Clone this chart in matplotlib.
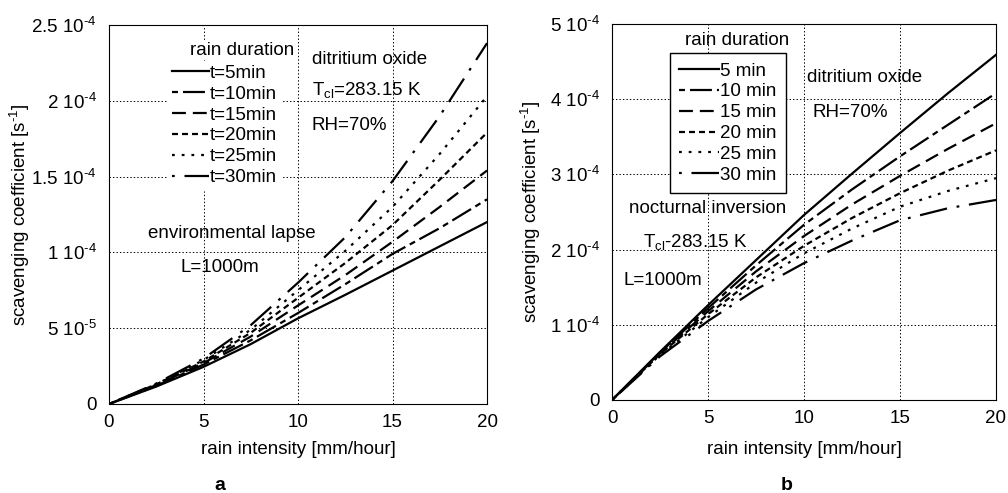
import numpy as np
import matplotlib
matplotlib.use('Agg')
import matplotlib.pyplot as plt

plt.rcParams['font.family'] = ['Liberation Sans', 'DejaVu Sans']
plt.rcParams['mathtext.fontset'] = 'custom'
plt.rcParams['mathtext.rm'] = 'Liberation Sans'
plt.rcParams['mathtext.it'] = 'Liberation Sans:italic'
plt.rcParams['lines.scale_dashes'] = False

# rain intensity [mm/hour]
x = [0, 2.5, 5, 7.5, 10, 12.5, 15, 17.5, 20]

# panel a: environmental lapse, values in 1e-5 s^-1
a_t5 = [0, 1.15, 2.45, 3.95, 5.65, 7.2, 8.8, 10.4, 12.0]
a_t10 = [0, 1.2, 2.6, 4.2, 6.0, 7.9, 9.9, 11.6, 13.5]
a_t15 = [0, 1.25, 2.7, 4.45, 6.5, 8.5, 10.7, 13.0, 15.4]
a_t20 = [0, 1.3, 2.8, 4.7, 7.0, 9.3, 11.8, 14.8, 17.9]
a_t25 = [0, 1.3, 2.9, 4.9, 7.5, 10.1, 13.0, 16.5, 20.3]
a_t30 = [0, 1.35, 3.0, 5.2, 8.0, 11.0, 14.7, 19.0, 23.8]

# panel b: nocturnal inversion, values in 1e-4 s^-1
b_t5 = [0, 0.64, 1.26, 1.86, 2.46, 3.01, 3.55, 4.08, 4.59]
b_t10 = [0, 0.63, 1.22, 1.79, 2.33, 2.80, 3.24, 3.66, 4.08]
b_t15 = [0, 0.62, 1.18, 1.71, 2.18, 2.60, 2.98, 3.34, 3.68]
b_t20 = [0, 0.61, 1.14, 1.63, 2.05, 2.42, 2.75, 3.05, 3.32]
b_t25 = [0, 0.60, 1.10, 1.56, 1.95, 2.28, 2.57, 2.78, 2.95]
b_t30 = [0, 0.58, 1.05, 1.47, 1.82, 2.12, 2.39, 2.55, 2.66]

a_labels = ['t=5min', 't=10min', 't=15min', 't=20min', 't=25min', 't=30min']
b_labels = ['5 min', '10 min', '15 min', '20 min', '25 min', '30 min']

a_yticks = [0, 5e-5, 1e-4, 1.5e-4, 2e-4, 2.5e-4]
a_yticklabels = ['0', '5 10$^{\\text{-5}}$', '1 10$^{\\text{-4}}$', '1.5 10$^{\\text{-4}}$',
                 '2 10$^{\\text{-4}}$', '2.5 10$^{\\text{-4}}$']
b_yticks = [0, 1e-4, 2e-4, 3e-4, 4e-4, 5e-4]
b_yticklabels = ['0', '1 10$^{\\text{-4}}$', '2 10$^{\\text{-4}}$', '3 10$^{\\text{-4}}$',
                 '4 10$^{\\text{-4}}$', '5 10$^{\\text{-4}}$']

# line styles (on/off in points)
styles = [
    None,
    (0, (4.3, 3.6, 15.8, 3.6)),
    (0, (10, 5)),
    (0, (4.3, 2.9)),
    (0, (2.0, 5.0)),
    (0, (2.0, 7.0, 20, 7.0)),
]

FS = 13.5
fig = plt.figure(figsize=(10.08, 4.93), dpi=100)
axa = fig.add_axes([109 / 1008, 1 - 404 / 493, 378 / 1008, 379 / 493])
axb = fig.add_axes([612 / 1008, 1 - 400 / 493, 384 / 1008, 376 / 493])


def draw(ax, series, scale, labels):
    for ys, ls, lab in zip(series, styles, labels):
        y = np.array(ys) * scale
        if ls is None:
            ax.plot(x, y, color='black', lw=1.6, label=lab)
        else:
            ax.plot(x, y, color='black', lw=1.6, linestyle=ls, label=lab)
    ax.set_xlim(0, 20)
    ax.set_xticks([0, 5, 10, 15, 20])
    ax.grid(True, color='black', linestyle=(0, (1, 1.5)), linewidth=0.7)
    ax.tick_params(length=0, labelsize=FS)
    ax.tick_params(axis='x', pad=7)
    ax.tick_params(axis='y', pad=9)
    for s in ax.spines.values():
        s.set_linewidth(0.8)
    ax.set_xlabel('rain intensity [mm/hour]', fontsize=FS)
    ax.set_ylabel('scavenging coefficient [s$^{\\text{-1}}$]', fontsize=FS)


draw(axa, [a_t5, a_t10, a_t15, a_t20, a_t25, a_t30], 1e-5, a_labels)
axa.set_ylim(0, 2.5e-4)
axa.set_yticks(a_yticks)
axa.set_yticklabels(a_yticklabels)
axa.xaxis.set_label_coords(0.5, -0.098)
axa.yaxis.set_label_coords(-0.204, 0.5)

draw(axb, [b_t5, b_t10, b_t15, b_t20, b_t25, b_t30], 1e-4, b_labels)
axb.set_ylim(0, 5e-4)
axb.set_yticks(b_yticks)
axb.set_yticklabels(b_yticklabels)
axb.xaxis.set_label_coords(0.5, -0.109)
axb.yaxis.set_label_coords(-0.18, 0.5)

# legends
lga = axa.legend(loc='upper left', bbox_to_anchor=(168 / 1008, 1 - 61 / 493),
                 bbox_transform=fig.transFigure, fontsize=FS, frameon=True,
                 fancybox=False, framealpha=1, edgecolor='white',
                 handlelength=2.0, handletextpad=0.05, labelspacing=0.2,
                 borderpad=0.2, borderaxespad=0)
lgb = axb.legend(loc='upper left', bbox_to_anchor=(670 / 1008, 1 - 53 / 493),
                 bbox_transform=fig.transFigure, fontsize=FS, frameon=True,
                 fancybox=False, framealpha=1, edgecolor='black',
                 handlelength=2.1, handletextpad=0.05, labelspacing=0.2,
                 borderpad=0.5, borderaxespad=0)
lgb.get_frame().set_linewidth(1.0)

# annotations, panel a
kw = dict(fontsize=FS, va='baseline', ha='left')
axa.text(0.214, 0.921, 'rain duration', transform=axa.transAxes,
         bbox=dict(facecolor='white', edgecolor='none', pad=1), **kw)
axa.text(0.537, 0.897, 'ditritium oxide', transform=axa.transAxes, **kw)
axa.text(0.537, 0.815, 'T$_{\\mathrm{cl}}$=283.15 K', transform=axa.transAxes, **kw)
axa.text(0.537, 0.723, 'RH=70%', transform=axa.transAxes, **kw)
axa.text(0.103, 0.437, 'environmental lapse', transform=axa.transAxes, **kw)
axa.text(0.188, 0.348, 'L=1000m', transform=axa.transAxes, **kw)

# annotations, panel b
axb.text(0.190, 0.944, 'rain duration', transform=axb.transAxes, **kw)
axb.text(0.508, 0.846, 'ditritium oxide', transform=axb.transAxes, **kw)
axb.text(0.523, 0.753, 'RH=70%', transform=axb.transAxes, **kw)
axb.text(0.044, 0.497, 'nocturnal inversion', transform=axb.transAxes, **kw)
axb.text(0.081, 0.407, 'T$_{\\mathrm{cl}}$-283.15 K', transform=axb.transAxes, **kw)
axb.text(0.029, 0.306, 'L=1000m', transform=axb.transAxes, **kw)

fig.text(220 / 1008, 1 - 485 / 493, 'a', fontsize=14, fontweight='bold', ha='center', va='center')
fig.text(787 / 1008, 1 - 485 / 493, 'b', fontsize=14, fontweight='bold', ha='center', va='center')

fig.savefig('out.png', dpi=100)
